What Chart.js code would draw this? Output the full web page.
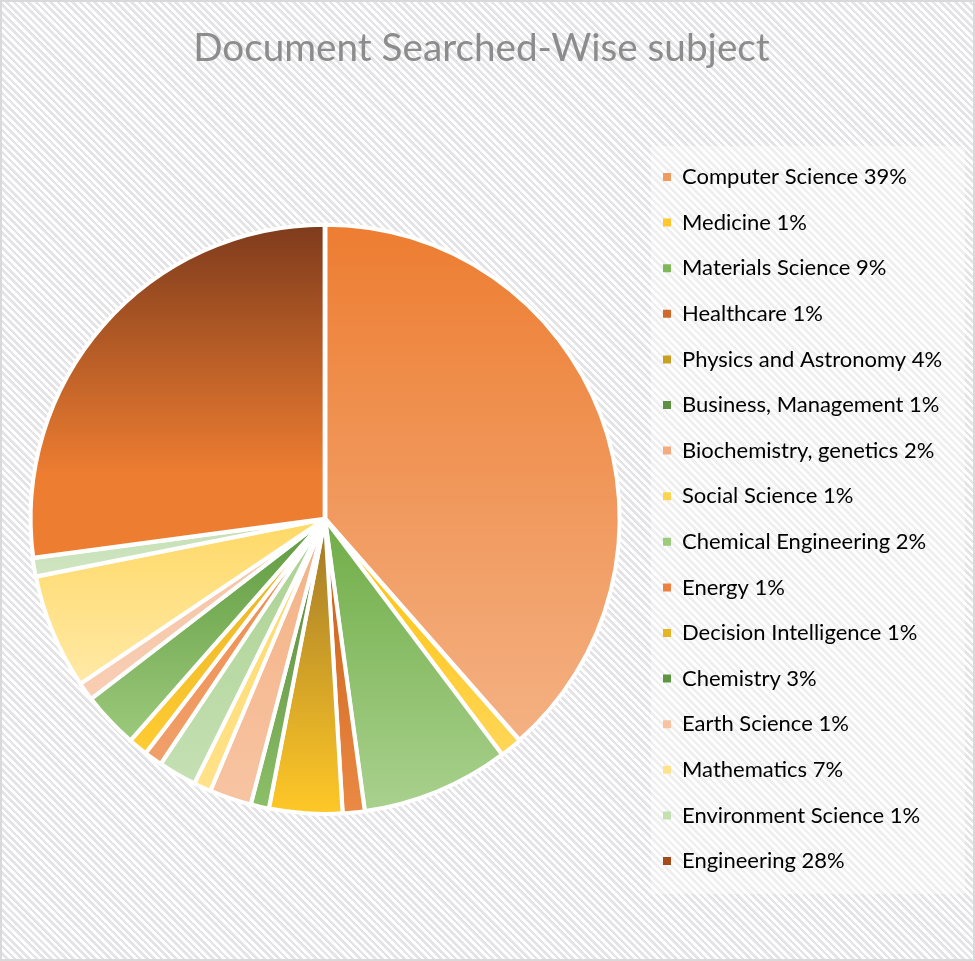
<!DOCTYPE html>
<html><head><meta charset="utf-8">
<script src="https://cdn.jsdelivr.net/npm/chart.js@4/dist/chart.umd.min.js"></script>
<style>
html,body{margin:0;padding:0;background:#fff;}
#wrap{position:relative;width:975px;height:961px;box-sizing:border-box;border:2px solid #D9D9D9;
background:repeating-linear-gradient(45deg,#ffffff 0px,#ffffff 2.6px,#e4e4e6 2.6px,#e4e4e6 5.2px);}
canvas{position:absolute;left:-2px;top:-2px;}
</style></head><body>
<div id="wrap"><canvas id="c" width="975" height="961" style="width:975px;height:961px"></canvas></div>
<script>
// ---- data ----
const categories = ["Computer Science","Medicine","Materials Science","Healthcare","Physics and Astronomy","Business, Management","Biochemistry, genetics","Social Science","Chemical Engineering","Energy","Decision Intelligence","Chemistry","Earth Science","Mathematics","Environment Science","Engineering"];
const percentLabels = [39,1,9,1,4,1,2,1,2,1,1,3,1,7,1,28];
const values = [38.5,1.2,8.1,1.2,4.0,1.0,2.3,0.95,2.1,1.0,1.06,3.1,1.0,6.3,1.0,27.1];
const title = "Document Searched-Wise subject";

// ---- style ----
const swatchColors = ["#F19A60","#FFC72C","#7FB85A","#D0692A","#C9A020","#5E9140","#F4AB80","#FFD54F","#9DCB7E","#EE8040","#E7B424","#5D9640","#F8C3A0","#FFE38A","#C3E0B0","#A34C1A"];
const gradTop    = ["#ED7D31","#FFC000","#70AD47","#C55A11","#A07828","#548235","#F4B183","#FFD966","#A9D18E","#ED8A4A","#E6B020","#5E9A3E","#F6C3A4","#FFD966","#C5E0B4","#7E3B1C"];
const gradBottom = ["#F4B183","#FFD659","#A9D18E","#EB8A45","#FFC827","#8CC068","#F7C4A2","#FFE28A","#C5E0B4","#F0A06A","#FFCC33","#9CC97C","#F8CEB3","#FFE9A6","#CFE5C1","#ED7D31"];
const gradMidStop = [null,null,null,null,null,null,null,null,null,null,null,null,null,null,null,0.75];

const legendFont = {family:"Lato", size:22};
const legendPad = 23.6;
const boxW = 8;
const m = document.createElement('canvas').getContext('2d');
m.font = legendFont.size + "px " + legendFont.family;
const legendTexts = categories.map((c,i)=>c + " " + percentLabels[i] + "%");
const maxTW = Math.max(...legendTexts.map(t=>m.measureText(t).width));
const legendWidth = legendPad + boxW + legendFont.size/2 + maxTW + 10;
const legendLeft = 639.4;
const padRight = 975 - legendLeft - legendWidth;

const gradPlugin = {
  id:'grad',
  beforeDatasetsDraw(chart){
    const meta = chart.getDatasetMeta(0);
    const ctx = chart.ctx;
    meta.data.forEach((arc,i)=>{
      const p = arc.getProps(['x','y','startAngle','endAngle','outerRadius'], true);
      const ys=[p.y, p.y+p.outerRadius*Math.sin(p.startAngle), p.y+p.outerRadius*Math.sin(p.endAngle)];
      for (let k=-4;k<=4;k++){ const a=Math.PI/2+k*Math.PI; if (a>p.startAngle && a<p.endAngle) ys.push(p.y+p.outerRadius*Math.sin(a)); }
      const top=Math.min(...ys), bot=Math.max(...ys);
      const g = ctx.createLinearGradient(0,top,0,bot);
      g.addColorStop(0, gradTop[i]);
      if (gradMidStop[i]) g.addColorStop(gradMidStop[i], gradBottom[i]);
      g.addColorStop(1, gradBottom[i]);
      arc.options.backgroundColor = g;
    });
  }
};
const legendBg = {
  id:'legendBg',
  beforeDraw(chart){
    const lg = chart.legend;
    if (!lg || !lg.legendHitBoxes || !lg.legendHitBoxes.length) return;
    const hb = lg.legendHitBoxes;
    const ctx = chart.ctx;
    ctx.save();
    ctx.fillStyle = 'rgba(255,255,255,0.4)';
    const l = hb[0].left - 12, t = hb[0].top - 20, b = hb[hb.length-1].top + hb[hb.length-1].height + 22;
    ctx.fillRect(l, t, 965 - l, b - t);
    ctx.restore();
  }
};

new Chart(document.getElementById('c'), {
  type:'pie',
  data:{
    labels: categories,
    datasets:[{
      data: values,
      backgroundColor: swatchColors,
      borderColor:'#ffffff',
      borderWidth:4,
      borderJoinStyle:'round',
      offset:2
    }]
  },
  options:{
    responsive:false,
    animation:false,
    events:[],
    radius:294,
    layout:{padding:{left:10.6, right:padRight, top:0, bottom:23}},
    plugins:{
      tooltip:{enabled:false},
      title:{display:true, text:title, color:'#8C8C8C', font:{family:'Lato', size:38.7, weight:'normal'}, padding:{top:25.8,bottom:27.8}},
      legend:{
        position:'right', align:'center', fullSize:false,
        labels:{
          boxWidth:boxW, boxHeight:8, padding:legendPad, color:'#6B6B6B', font:legendFont,
          generateLabels(chart){
            return legendTexts.map((t,i)=>({text:t, fillStyle:swatchColors[i], strokeStyle:swatchColors[i], lineWidth:0, hidden:false, index:i}));
          }
        }
      }
    }
  },
  plugins:[legendBg, gradPlugin]
});
</script>
</body></html>
